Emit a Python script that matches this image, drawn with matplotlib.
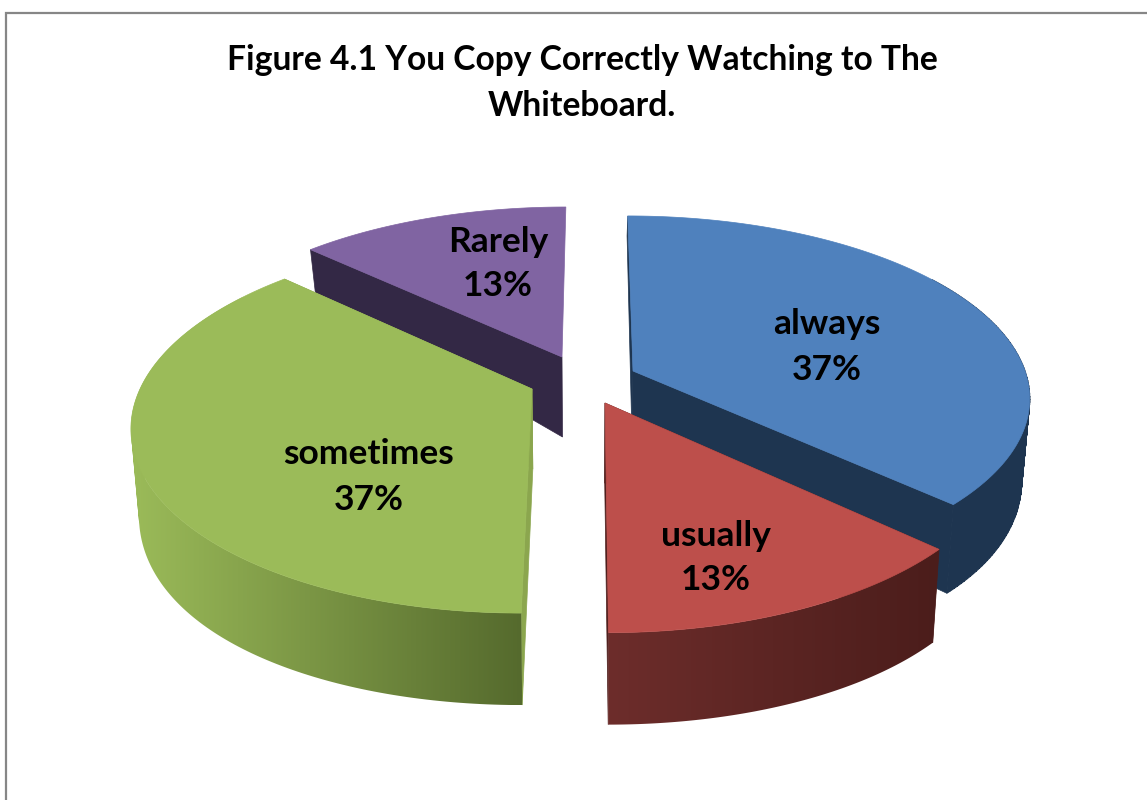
import numpy as np
import matplotlib
matplotlib.use("Agg")
import matplotlib.pyplot as plt
from matplotlib.patches import Polygon, PathPatch
from matplotlib.path import Path
from matplotlib.colors import to_rgb, LinearSegmentedColormap

# --- data ---
categories = ["always", "usually", "sometimes", "Rarely"]
values = [37, 13, 37, 13]
title = "Figure 4.1 You Copy Correctly Watching to The\nWhiteboard."

# --- style / layout (pixels of the 1147x800 canvas) ---
top_colors = ["#4f81bd", "#bd4f4b", "#9bbb59", "#8064a2"]
wall_left = ["#1e3550", "#6d2d2b", "#9bbb59", "#332845"]
wall_right = ["#1e3550", "#4b1d1b", "#556a2d", "#332845"]
side_colors = ["#1e3550", "#4f1f1d", "#8ba64e", "#332845"]
apexes = [(633, 371), (605, 403), (532, 389), (562, 357)]
label_pos = [(827, 347), (716, 558), (369, 477), (498, 264)]
draw_order = [3, 2, 0, 1]
radius_x = [392.0, 396.0, 392.0, 387.0]
radius_y = [176.6, 186.0, 181.5, 174.0]
persp = [0.139, 0.19, 0.19, 0.16]
vanish_x = [590.0, 590.0, 578.0, 590.0]
depth_scale = [0.95, 1.0, 1.0, 1.0]
show_end_wall = [True, True, True, False]
SHRINK = 0.982


def project(i, theta):
    u, v = np.sin(theta), np.cos(theta)
    w = 1.0 / (1.0 + persp[i] * v)
    return (vanish_x[i] + (apexes[i][0] - vanish_x[i] + radius_x[i] * u) * w,
            apexes[i][1] - radius_y[i] * v * w)


def lower(i, x, y, v):
    d = (80 - 35.5 * v - 23.5 * v ** 2) * depth_scale[i]
    return vanish_x[i] + (x - vanish_x[i]) * SHRINK, y + d


def oriented(quad):
    """Return the quad wound so that overlapping quads fill as one union."""
    q = np.asarray(quad)
    area = 0.5 * np.sum(q[:, 0] * np.roll(q[:, 1], -1) - np.roll(q[:, 0], -1) * q[:, 1])
    return q if area > 0 else q[::-1]


fig = plt.figure(figsize=(11.47, 8.0), dpi=100)
ax = fig.add_axes([0, 0, 1, 1])
ax.axis("off")

# chart frame
ax.plot([6, 6, 1147], [800, 13, 13], color="#868686", lw=1.6, solid_joinstyle="miter")

fractions = np.array(values, dtype=float) / sum(values)
starts = 2 * np.pi * np.concatenate([[0], np.cumsum(fractions)[:-1]])
ends = 2 * np.pi * np.cumsum(fractions)

for i in draw_order:
    layer = draw_order.index(i) * 3
    apex = apexes[i]
    thetas = np.linspace(starts[i], ends[i], 160)
    rim = np.array([project(i, t) for t in thetas])
    vs = np.cos(thetas)
    low = np.array([lower(i, x, y, v) for (x, y), v in zip(rim, vs)])
    a_low = lower(i, apex[0], apex[1], 0.0)

    # straight cut walls
    for k in (0, -1):
        if k == -1 and not show_end_wall[i]:
            continue
        ax.add_patch(Polygon([apex, rim[k], low[k], a_low], closed=True,
                             fc=side_colors[i], ec=side_colors[i], lw=0.5, zorder=1 + layer))

    # outer curved wall: union of narrow quads, shaded left to right when the colours differ
    quads = [oriented([rim[j], rim[j + 1], low[j + 1], low[j]])
             for j in range(len(thetas) - 1) if vs[j] <= 0.55 or vs[j + 1] <= 0.55]
    if quads:
        verts, codes = [], []
        for q in quads:
            verts.extend(list(q) + [q[0]])
            codes.extend([Path.MOVETO, Path.LINETO, Path.LINETO, Path.LINETO, Path.CLOSEPOLY])
        wall = Path(np.array(verts), codes)
        if wall_left[i] == wall_right[i]:
            ax.add_patch(PathPatch(wall, fc=wall_left[i], ec=wall_left[i], lw=0.8, zorder=2 + layer))
        else:
            x0, x1 = min(v[0] for v in verts), max(v[0] for v in verts)
            y0, y1 = min(v[1] for v in verts), max(v[1] for v in verts)
            cmap = LinearSegmentedColormap.from_list("w", [to_rgb(wall_left[i]), to_rgb(wall_right[i])])
            im = ax.imshow(np.linspace(0, 1, 256)[None, :], extent=(x0, x1, y1, y0), cmap=cmap,
                           aspect="auto", zorder=2 + layer, interpolation="bilinear")
            clip = PathPatch(wall, transform=ax.transData, fc="none", ec="none")
            ax.add_patch(clip)
            im.set_clip_path(clip)

    # top face
    ax.add_patch(Polygon(np.vstack([[apex], rim]), closed=True, fc=top_colors[i],
                         ec=top_colors[i], lw=0.5, zorder=3 + layer))

ax.set_xlim(0, 1147)
ax.set_ylim(800, 0)

font = ["Lato", "DejaVu Sans"]
for i, name in enumerate(categories):
    ax.text(label_pos[i][0], label_pos[i][1], f"{name}\n{values[i]}%", ha="center", va="center",
            fontsize=25.5, fontweight="bold", family=font, color="black", linespacing=1.5, zorder=30)

ax.text(582, 83, title, ha="center", va="center", fontsize=24.2, fontweight="bold",
        family=font, color="black", linespacing=1.55, zorder=30)

fig.savefig("out.png", dpi=100, facecolor="white")
